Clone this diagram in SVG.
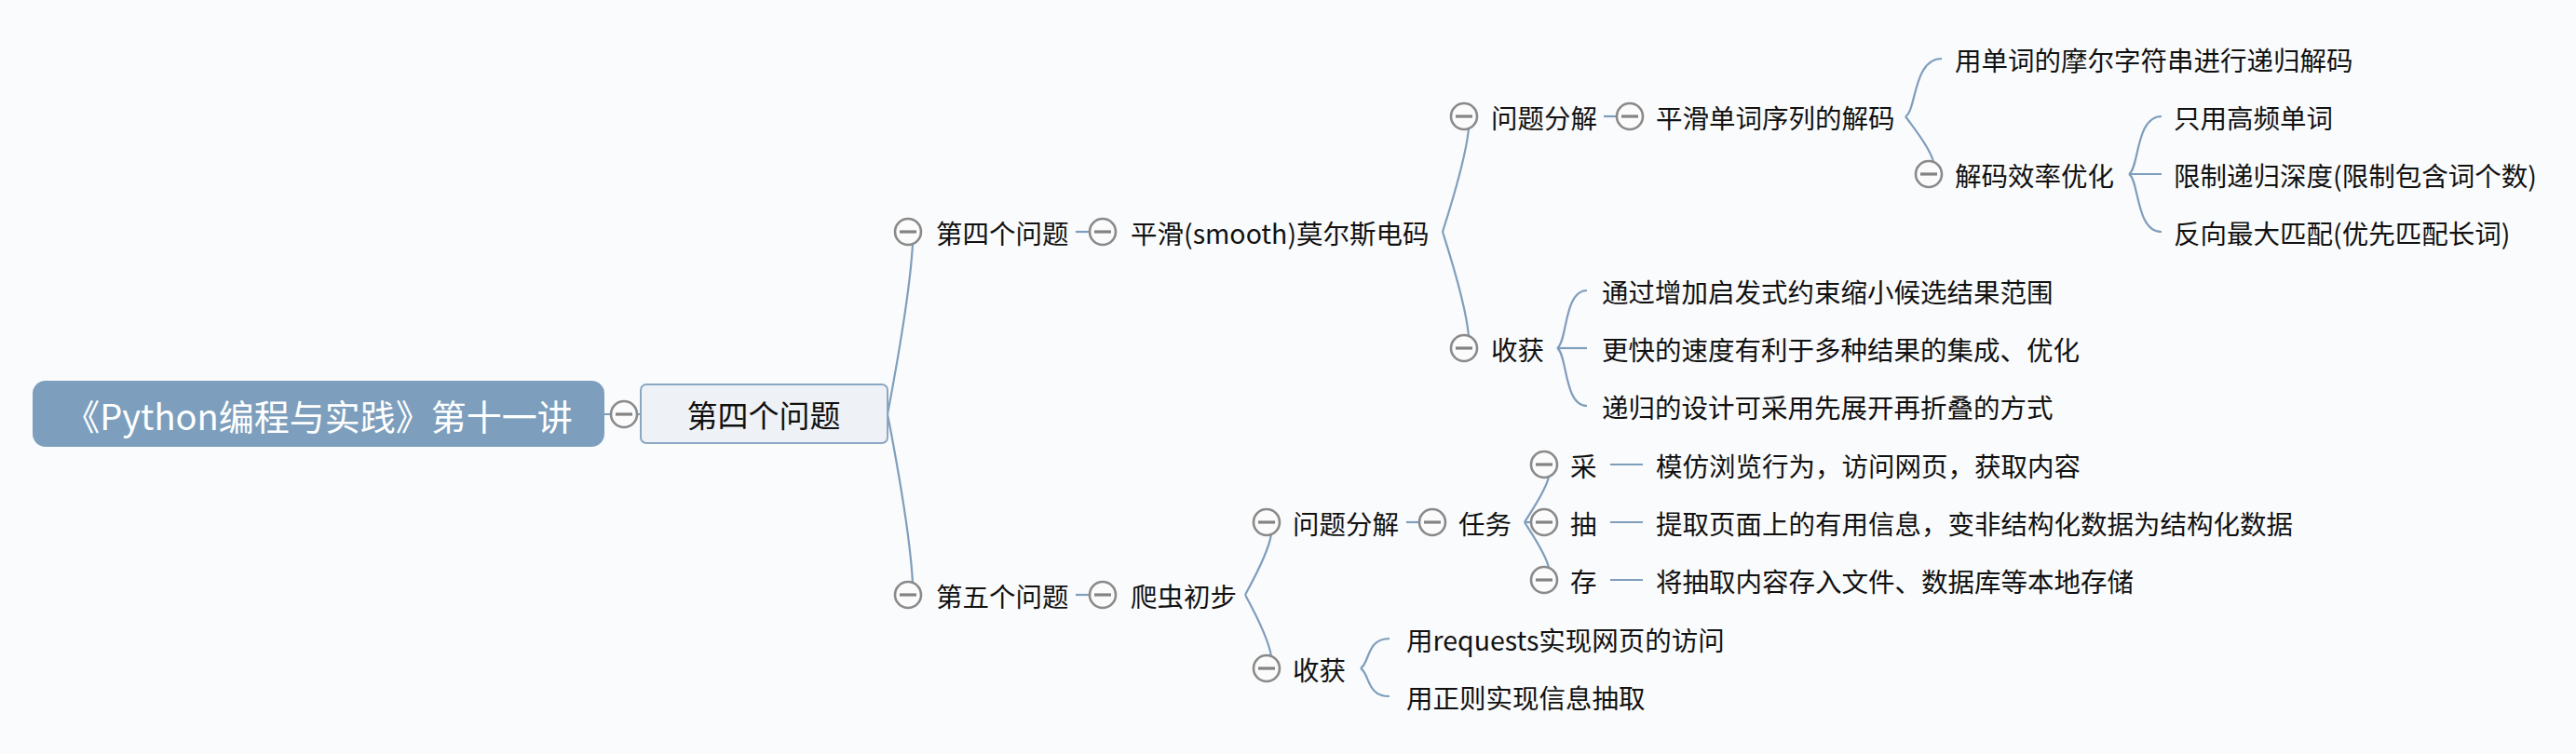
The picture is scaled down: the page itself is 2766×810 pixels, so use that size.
<svg xmlns="http://www.w3.org/2000/svg" xmlns:xlink="http://www.w3.org/1999/xlink" width="2766" height="810" viewBox="0 0 2766 810">
<style>
.ln{fill:none;stroke:#7f9ebc;stroke-width:2.2}
.t{font-family:"Noto Sans CJK SC","Noto Sans",sans-serif;font-size:28.5px;fill:#111111;dominant-baseline:central}
.root{font-family:"Noto Sans CJK SC","Noto Sans",sans-serif;font-size:38px;fill:#ffffff;dominant-baseline:central;text-anchor:middle}
.box{font-family:"Noto Sans CJK SC","Noto Sans",sans-serif;font-size:33px;fill:#111111;dominant-baseline:central;text-anchor:middle}
</style>
<defs>
<g id="col"><circle r="14" fill="#fbfbfc" stroke="#8a8a8a" stroke-width="2.6"/><line x1="-9" y1="0" x2="9" y2="0" stroke="#838383" stroke-width="3.2"/></g>
</defs>
<rect x="0" y="0" width="2766" height="810" fill="#fafbfc"/>
<g id="connectors">
<path class="ln" d="M649 445H656M684 445H688"/>
<path class="ln" d="M953 445C960 408 977 317 980 262"/>
<path class="ln" d="M953 445C960 481 977 572 980 626"/>
<path class="ln" d="M1155 249H1170"/>
<path class="ln" d="M1549 249C1556 227 1574 171 1577 138"/>
<path class="ln" d="M1549 249C1556 271 1574 327 1577 361"/>
<path class="ln" d="M1722 125H1736"/>
<path class="ln" d="M2046 125C2058 119 2054 63 2085 63"/>
<path class="ln" d="M2046 125C2053 135 2073 159 2076 174"/>
<path class="ln" d="M2286 187C2297 181 2293 125 2321 125"/>
<path class="ln" d="M2286 187H2321"/>
<path class="ln" d="M2286 187C2297 193 2293 249 2321 249"/>
<path class="ln" d="M1672 374C1683 368 1679 312 1704 312"/>
<path class="ln" d="M1672 374H1704"/>
<path class="ln" d="M1672 374C1683 380 1679 436 1704 436"/>
<path class="ln" d="M1155 639H1170"/>
<path class="ln" d="M1337 639C1344 626 1362 594 1365 574"/>
<path class="ln" d="M1337 639C1344 652 1362 685 1365 705"/>
<path class="ln" d="M1510 561H1524"/>
<path class="ln" d="M1637 561C1643 551 1660 527 1663 512"/>
<path class="ln" d="M1637 561H1658"/>
<path class="ln" d="M1637 561C1643 571 1660 595 1663 610"/>
<path class="ln" d="M1729 499H1764M1729 561H1764M1729 623H1764"/>
<path class="ln" d="M1461 718C1471 712 1467 686 1492 686"/>
<path class="ln" d="M1461 718C1471 724 1467 748 1492 748"/>
</g>
<g id="root"><rect x="35" y="409" width="614" height="71" rx="14" fill="#7d9fbd"/><text class="root" x="342" y="445">《Python编程与实践》第十一讲</text></g>
<g id="root-collapse"><use href="#col" x="670" y="445"/></g>
<g id="main"><rect x="688" y="413" width="265" height="63" rx="6" fill="#eef2f7" stroke="#8aa7c4" stroke-width="2"/><text class="box" x="820" y="445">第四个问题</text></g>
<g id="q4"><use href="#col" x="975" y="249"/><text class="t" x="1005" y="249">第四个问题</text></g>
<g id="morse"><use href="#col" x="1184" y="249"/><text class="t" x="1214" y="249">平滑(smooth)莫尔斯电码</text></g>
<g id="q4-decomp"><use href="#col" x="1572" y="125"/><text class="t" x="1601" y="125">问题分解</text></g>
<g id="seq-decode"><use href="#col" x="1750" y="125"/><text class="t" x="1778" y="125">平滑单词序列的解码</text></g>
<g id="recursive"><text class="t" x="2099" y="63">用单词的摩尔字符串进行递归解码</text></g>
<g id="optimize"><use href="#col" x="2071" y="187"/><text class="t" x="2099" y="187">解码效率优化</text></g>
<g id="opt1"><text class="t" x="2334" y="125">只用高频单词</text></g>
<g id="opt2"><text class="t" x="2334" y="187">限制递归深度(限制包含词个数)</text></g>
<g id="opt3"><text class="t" x="2334" y="249">反向最大匹配(优先匹配长词)</text></g>
<g id="q4-gain"><use href="#col" x="1572" y="374"/><text class="t" x="1601" y="374">收获</text></g>
<g id="gain1"><text class="t" x="1720" y="312">通过增加启发式约束缩小候选结果范围</text></g>
<g id="gain2"><text class="t" x="1720" y="374">更快的速度有利于多种结果的集成、优化</text></g>
<g id="gain3"><text class="t" x="1720" y="436">递归的设计可采用先展开再折叠的方式</text></g>
<g id="q5"><use href="#col" x="975" y="639"/><text class="t" x="1005" y="639">第五个问题</text></g>
<g id="crawler"><use href="#col" x="1184" y="639"/><text class="t" x="1214" y="639">爬虫初步</text></g>
<g id="q5-decomp"><use href="#col" x="1360" y="561"/><text class="t" x="1388" y="561">问题分解</text></g>
<g id="task"><use href="#col" x="1538" y="561"/><text class="t" x="1566" y="561">任务</text></g>
<g id="cai"><use href="#col" x="1658" y="499"/><text class="t" x="1686" y="499">采</text></g>
<g id="chou"><use href="#col" x="1658" y="561"/><text class="t" x="1686" y="561">抽</text></g>
<g id="cun"><use href="#col" x="1658" y="623"/><text class="t" x="1686" y="623">存</text></g>
<g id="cai-d"><text class="t" x="1778" y="499">模仿浏览行为，访问网页，获取内容</text></g>
<g id="chou-d"><text class="t" x="1778" y="561">提取页面上的有用信息，变非结构化数据为结构化数据</text></g>
<g id="cun-d"><text class="t" x="1778" y="623">将抽取内容存入文件、数据库等本地存储</text></g>
<g id="q5-gain"><use href="#col" x="1360" y="718"/><text class="t" x="1388" y="718">收获</text></g>
<g id="req"><text class="t" x="1510" y="686">用requests实现网页的访问</text></g>
<g id="regex"><text class="t" x="1510" y="748">用正则实现信息抽取</text></g>
</svg>
